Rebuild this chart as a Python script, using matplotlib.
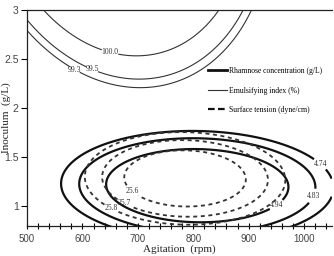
import numpy as np
import matplotlib
matplotlib.use("Agg")
import matplotlib.pyplot as plt
from matplotlib.lines import Line2D
from matplotlib.ticker import MultipleLocator

plt.rcParams["font.family"] = ["Liberation Serif", "DejaVu Serif"]

# Contour points: agitation (rpm), inoculum (g/L), level
EI_AGIT = [524, 572, 632, 680, 722, 764, 807, 836, 848,
           500, 547, 614, 650, 680, 727, 758, 807, 830, 861, 892,
           500, 565, 601, 691, 735, 753, 830, 866, 901]
EI_INOC = [3.0, 2.80, 2.59, 2.55, 2.56, 2.59, 2.72, 2.90, 3.0,
           2.90, 2.66, 2.44, 2.36, 2.31, 2.30, 2.34, 2.44, 2.52, 2.77, 3.0,
           2.82, 2.39, 2.34, 2.23, 2.22, 2.26, 2.46, 2.69, 3.0]
EI_LEVEL = [100.0] * 9 + [99.5] * 11 + [99.3] * 9

RH_AGIT = [565, 740, 800, 921, 1010, 1040, 569, 653,
           596, 800, 903, 993, 1014, 1005, 953, 709,
           634, 800, 903, 957, 971, 939, 866, 812]
RH_INOC = [1.23, 1.74, 1.78, 1.70, 1.49, 1.16, 1.06, 0.80,
           1.19, 1.69, 1.60, 1.50, 1.32, 1.01, 0.81, 0.80,
           1.16, 1.59, 1.50, 1.40, 1.24, 0.99, 0.86, 0.85]
RH_LEVEL = [4.74] * 8 + [4.83] * 8 + [4.94] * 8

ST_AGIT = [671, 682, 690, 740, 800, 861, 890, 884, 848, 800, 722, 691,
           848, 921, 930, 924, 884, 800, 722, 677, 641, 637, 668, 740,
           872, 933, 962, 962, 939, 884, 800, 722, 650, 610, 606, 632, 704, 800]
ST_INOC = [1.35, 1.23, 1.16, 1.03, 1.03, 1.09, 1.32, 1.45, 1.52, 1.57, 1.57, 1.52,
           1.69, 1.42, 1.27, 1.11, 0.93, 0.91, 0.94, 1.05, 1.16, 1.37, 1.57, 1.65,
           1.70, 1.49, 1.37, 1.19, 1.03, 0.86, 0.83, 0.86, 0.96, 1.16, 1.29, 1.50, 1.66, 1.72]
ST_LEVEL = [25.6] * 12 + [25.7] * 12 + [25.8] * 14

EI_LEVELS = [99.3, 99.5, 100.0]
RH_LEVELS = [4.74, 4.83, 4.94]
ST_LEVELS = [25.6, 25.7, 25.8]

X_TICKS = [500, 600, 700, 800, 900, 1000]
Y_TICKS = [1, 1.5, 2, 2.5, 3]
Y_TICK_LABELS = ["1", "1.5", "2", "2.5", "3"]


def coded(agit, inoc):
    u = (np.asarray(agit, float) - 775.0) / 275.0
    v = (np.asarray(inoc, float) - 1.9) / 1.1
    return u, v


def design(agit, inoc):
    u, v = coded(agit, inoc)
    return np.stack([np.ones_like(u), u, v, u * u, v * v, u * v], axis=-1)


def fit_model(agit, inoc, level):
    # quadratic response surface through the traced contour points
    coef, *_ = np.linalg.lstsq(design(agit, inoc), np.asarray(level, float), rcond=None)
    return coef


def surface(coef, ymin, ymax):
    a = np.linspace(500, 1050, 500)
    i = np.linspace(ymin, ymax, 500)
    A, I = np.meshgrid(a, i)
    return A, I, design(A, I) @ coef


def add_labels(ax, cs, positions, fmt):
    texts = ax.clabel(cs, inline=True, fmt=fmt, fontsize=5.5,
                      manual=positions, inline_spacing=1, colors="#333333")
    for t in texts:
        t.set_rotation(0)


fig = plt.figure(figsize=(3.34, 2.56), dpi=100)
ax = fig.add_axes([0.081, 0.117, 0.912, 0.844])

A, I, Z = surface(fit_model(EI_AGIT, EI_INOC, EI_LEVEL), 2.0, 3.0)
cs_ei = ax.contour(A, I, Z, levels=EI_LEVELS, colors="#333333", linewidths=0.8)
add_labels(ax, cs_ei, [(654, 2.59), (630, 2.43), (575, 2.37)],
           {99.3: "99.3", 99.5: "99.5", 100.0: "100.0"})

A, I, Z = surface(fit_model(RH_AGIT, RH_INOC, RH_LEVEL), 0.75, 2.1)
cs_rh = ax.contour(A, I, Z, levels=RH_LEVELS, colors="#111111", linewidths=1.6)
add_labels(ax, cs_rh, [(1029, 1.43), (1011, 1.12), (951, 1.01)],
           {4.74: "4.74", 4.83: "4.83", 4.94: "4.94"})

A, I, Z = surface(fit_model(ST_AGIT, ST_INOC, ST_LEVEL), 0.75, 2.1)
cs_st = ax.contour(A, I, Z, levels=ST_LEVELS, colors="#333333", linewidths=1.3,
                   linestyles=[(0, (2.2, 2.0))])
add_labels(ax, cs_st, [(690, 1.16), (677, 1.05), (650, 0.96)],
           {25.6: "25.6", 25.7: "25.7", 25.8: "25.8"})

ax.set_xlim(500, 1050)
ax.set_ylim(0.8, 3.0)
ax.set_xticks(X_TICKS)
ax.xaxis.set_minor_locator(MultipleLocator(20))
ax.set_yticks(Y_TICKS)
ax.set_yticklabels(Y_TICK_LABELS)
ax.tick_params(axis="x", which="both", direction="inout", length=5, width=0.8,
               pad=3, labelsize=7, labelcolor="#444444")
ax.tick_params(axis="y", which="both", direction="out", length=4, width=0.8,
               pad=2, labelsize=7.5, labelcolor="#444444")
for lbl in ax.get_xticklabels() + ax.get_yticklabels():
    lbl.set_fontfamily("Liberation Sans")

for side in ("left", "bottom", "top"):
    ax.spines[side].set_linewidth(0.9)
    ax.spines[side].set_color("#222222")
ax.spines["right"].set_visible(False)

ax.set_xlabel("Agitation  (rpm)", fontsize=8, color="#222222")
ax.set_ylabel("Inoculum  (g/L)", fontsize=8, color="#222222")
ax.xaxis.set_label_coords(0.5, -0.085)
ax.yaxis.set_label_coords(-0.054, 0.5)

handles = [
    Line2D([], [], color="#111111", lw=2.0, label="Rhamnose concentration (g/L)"),
    Line2D([], [], color="#333333", lw=0.8, label="Emulsifying index (%)"),
    Line2D([], [], color="#111111", lw=1.6, linestyle=(0, (3, 1.5)),
           label="Surface tension (dyne/cm)"),
]
ax.legend(handles=handles, loc="upper left", bbox_to_anchor=(0.585, 0.75),
          frameon=False, fontsize=5.5, handlelength=2.4, handletextpad=0.3,
          labelspacing=1.5, borderaxespad=0)

fig.savefig("out.png", dpi=100)
